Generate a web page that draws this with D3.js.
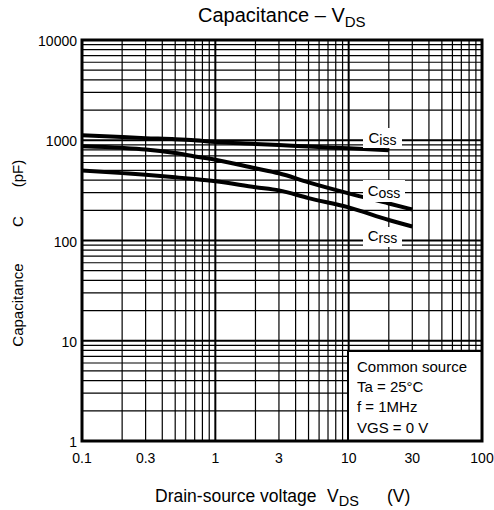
<!DOCTYPE html>
<html><head><meta charset="utf-8">
<script src="https://cdn.jsdelivr.net/npm/d3@7"></script>
<style>body{margin:0;background:#fff;} text{font-family:"Liberation Sans",Arial,sans-serif;fill:#000;}</style>
</head><body><svg id="c" width="494" height="510"></svg>
<script>
const vds = [0.1, 0.2, 0.3, 0.5, 0.7, 1, 2, 3, 5, 10, 20, 30];
const ciss = [1120, 1075, 1050, 1025, 1000, 960, 920, 895, 865, 830, 795, null];
const coss = [870, 840, 810, 745, 690, 640, 525, 468, 380, 295, 234, 204];
const crss = [500, 470, 452, 427, 410, 390, 340, 316, 265, 214, 160, 138];
const xTicks = [0.1, 0.3, 1, 3, 10, 30, 100];
const xTickLabels = ["0.1", "0.3", "1", "3", "10", "30", "100"];
const yTicks = [1, 10, 100, 1000, 10000];
const yTickLabels = ["1", "10", "100", "1000", "10000"];
const seriesNames = [["C","iss"],["C","oss"],["C","rss"]];
const legendLines = ["Common source", "Ta = 25°C", "f = 1MHz", "VGS = 0 V"];

const svg = d3.select("#c");
const L = 82, R = 482, T = 40, B = 441;
const x = d3.scaleLog().domain([0.1, 100]).range([L, R]);
const y = d3.scaleLog().domain([1, 10000]).range([B, T]);

// grid
const g = svg.append("g");
const xMinor = [];
for (let d = 0.1; d < 100; d *= 10) for (let k = 2; k <= 9; k++) xMinor.push(+(d*k).toPrecision(3));
const xMajor = [1, 10];
const yMinor = [];
for (let d = 1; d < 10000; d *= 10) for (let k = 2; k <= 9; k++) yMinor.push(d*k);
const yMajor = [10, 100, 1000];
g.selectAll(".vx").data(xMinor).join("line").attr("x1", d=>x(d)).attr("x2", d=>x(d)).attr("y1", T).attr("y2", B).attr("stroke","#000").attr("stroke-width",1.2);
g.selectAll(".vX").data(xMajor).join("line").attr("x1", d=>x(d)).attr("x2", d=>x(d)).attr("y1", T).attr("y2", B).attr("stroke","#000").attr("stroke-width",2);
g.selectAll(".hy").data(yMinor).join("line").attr("y1", d=>y(d)).attr("y2", d=>y(d)).attr("x1", L).attr("x2", R).attr("stroke","#000").attr("stroke-width",1.2);
g.selectAll(".hY").data(yMajor).join("line").attr("y1", d=>y(d)).attr("y2", d=>y(d)).attr("x1", L).attr("x2", R).attr("stroke","#000").attr("stroke-width",2);

// legend box (covers grid)
const lb = {x: 348, y: 351};
svg.append("rect").attr("x", lb.x).attr("y", lb.y).attr("width", R - lb.x).attr("height", B - lb.y).attr("fill","#fff").attr("stroke","#000").attr("stroke-width",2);
legendLines.forEach((t,i) => {
  svg.append("text").attr("x", 357).attr("y", 372 + i*20.2).attr("font-size", 15).text(t);
});

// curves
const line = d3.line().defined(d => d[1] != null).x(d => x(d[0])).y(d => y(d[1])).curve(d3.curveMonotoneX);
[ciss, coss, crss].forEach(s => {
  svg.append("path").attr("d", line(vds.map((v,i)=>[v, s[i]]))).attr("fill","none").attr("stroke","#000").attr("stroke-width",4);
});

// curve labels with white boxes
const labelPos = [[363, 128, 39, 20, 143], [363, 180, 42, 22, 196], [363, 227, 39, 20, 241]];
seriesNames.forEach((n,i) => {
  const p = labelPos[i];
  svg.append("rect").attr("x", p[0]).attr("y", p[1]).attr("width", p[2]).attr("height", p[3]).attr("fill","#fff");
  const t = svg.append("text").attr("x", p[0] + p[2]/2).attr("y", p[4]).attr("text-anchor","middle").attr("font-size",15);
  t.append("tspan").text(n[0]);
  t.append("tspan").attr("font-size",14).attr("dy",2).text(n[1]);
});

// frame
svg.append("rect").attr("x", L).attr("y", T).attr("width", R-L).attr("height", B-T).attr("fill","none").attr("stroke","#000").attr("stroke-width",3);

// tick labels
svg.selectAll(".xl").data(xTicks).join("text").attr("x", d=>x(d)).attr("y", 463).attr("text-anchor","middle").attr("font-size",14).text((d,i)=>xTickLabels[i]);
svg.selectAll(".yl").data(yTicks).join("text").attr("x", 77).attr("y", d=>y(d)+6).attr("text-anchor","end").attr("font-size",14).text((d,i)=>yTickLabels[i]);

// title
const tt = svg.append("text").attr("x", 198).attr("y", 22).attr("font-size",20);
tt.append("tspan").text("Capacitance – V");
tt.append("tspan").attr("font-size",15).attr("dy",5).text("DS");

// x axis title
svg.append("text").attr("x", 155).attr("y", 502).attr("font-size",17.5).text("Drain-source voltage");
const vt = svg.append("text").attr("x", 327).attr("y", 502).attr("font-size",17.5);
vt.append("tspan").text("V");
vt.append("tspan").attr("font-size",14.5).attr("dy",4).text("DS");
svg.append("text").attr("x", 387).attr("y", 502).attr("font-size",17.5).text("(V)");

// y axis title (rotated)
const yt = [["Capacitance", 305], ["C", 221.5], ["(pF)", 173.5]];
yt.forEach(d => {
  svg.append("text").attr("transform", `translate(23,${d[1]}) rotate(-90)`).attr("text-anchor","middle").attr("font-size",15).text(d[0]);
});
</script></body></html>
